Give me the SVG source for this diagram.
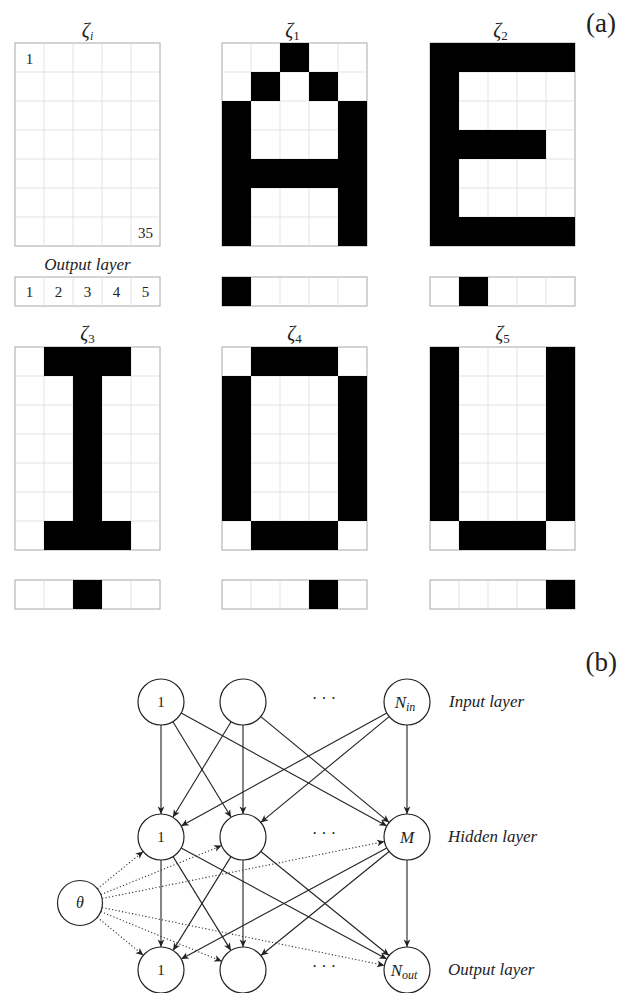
<svg xmlns="http://www.w3.org/2000/svg" xmlns:xlink="http://www.w3.org/1999/xlink" width="630" height="993" viewBox="0 0 630 993">
<style>
.txt{font-family:"Liberation Serif","DejaVu Serif",serif;fill:#222}
.it{font-style:italic}
.up{font-style:normal}
.cell{fill:#000}
.gl{stroke:#dcdcdc;stroke-width:0.8;fill:none}
.gb{stroke:#a8a8a8;stroke-width:1;fill:#fff}
.node{fill:#fff;stroke:#222;stroke-width:1.2}
.edge{stroke:#222;stroke-width:1.1;fill:none;marker-end:url(#arr)}
.dot{stroke:#333;stroke-width:1.1;fill:none;stroke-dasharray:1.2 2.2;marker-end:url(#arr)}
</style>
<defs>
<marker id="arr" markerUnits="userSpaceOnUse" markerWidth="10" markerHeight="8" refX="8" refY="4" orient="auto">
<path d="M8,4 L0.5,0.6 L2.5,4 L0.5,7.4 Z" fill="#222"/>
</marker>
<g id="grid">
<rect x="0" y="0" width="145" height="203" class="gb"/>
<path class="gl" d="M29,0V203M58,0V203M87,0V203M116,0V203M0,29H145M0,58H145M0,87H145M0,116H145M0,145H145M0,174H145"/>
</g>
<g id="bar">
<rect x="0" y="0" width="145" height="29" class="gb"/>
<path class="gl" d="M29,0V29M58,0V29M87,0V29M116,0V29"/>
</g>
</defs>
<rect width="630" height="993" fill="#fff"/>

<g id="panel-a">
<text class="txt" x="616" y="32" font-size="27" text-anchor="end">(a)</text>

<g id="zeta-i">
<text class="txt it" x="87.5" y="37" font-size="20" text-anchor="middle">ζ<tspan font-size="12" dy="3">i</tspan></text>
<use xlink:href="#grid" x="15" y="43"/>
<text class="txt" x="29.5" y="64" font-size="15" text-anchor="middle">1</text>
<text class="txt" x="145.5" y="238" font-size="15" text-anchor="middle">35</text>
<text class="txt it" x="87.5" y="270" font-size="17" text-anchor="middle">Output layer</text>
<use xlink:href="#bar" x="15" y="277"/>
<text class="txt" font-size="15" text-anchor="middle" y="297"><tspan x="29.5">1</tspan><tspan x="58.5">2</tspan><tspan x="87.5">3</tspan><tspan x="116.5">4</tspan><tspan x="145.5">5</tspan></text>
</g>

<g id="zeta-1">
<text class="txt it" x="292.5" y="37" font-size="20" text-anchor="middle">ζ<tspan class="up" font-size="13" dy="3">1</tspan></text>
<use xlink:href="#grid" x="222" y="43"/>
<rect class="cell" x="280" y="43" width="29" height="29"/>
<rect class="cell" x="251" y="72" width="29" height="29"/>
<rect class="cell" x="309" y="72" width="29" height="29"/>
<rect class="cell" x="222" y="101" width="29" height="145"/>
<rect class="cell" x="338" y="101" width="29" height="145"/>
<rect class="cell" x="251" y="159" width="87" height="29"/>
<use xlink:href="#bar" x="222" y="277"/>
<rect class="cell" x="222" y="277" width="29" height="29"/>
</g>

<g id="zeta-2">
<text class="txt it" x="500.5" y="37" font-size="20" text-anchor="middle">ζ<tspan class="up" font-size="13" dy="3">2</tspan></text>
<use xlink:href="#grid" x="430" y="43"/>
<rect class="cell" x="430" y="43" width="145" height="29"/>
<rect class="cell" x="430" y="72" width="29" height="174"/>
<rect class="cell" x="459" y="130" width="87" height="29"/>
<rect class="cell" x="459" y="217" width="116" height="29"/>
<use xlink:href="#bar" x="430" y="277"/>
<rect class="cell" x="459" y="277" width="29" height="29"/>
</g>

<g id="zeta-3">
<text class="txt it" x="87.5" y="340" font-size="20" text-anchor="middle">ζ<tspan class="up" font-size="13" dy="3">3</tspan></text>
<use xlink:href="#grid" x="15" y="347"/>
<rect class="cell" x="44" y="347" width="87" height="29"/>
<rect class="cell" x="73" y="376" width="29" height="145"/>
<rect class="cell" x="44" y="521" width="87" height="29"/>
<use xlink:href="#bar" x="15" y="580"/>
<rect class="cell" x="73" y="580" width="29" height="29"/>
</g>

<g id="zeta-4">
<text class="txt it" x="294.5" y="340" font-size="20" text-anchor="middle">ζ<tspan class="up" font-size="13" dy="3">4</tspan></text>
<use xlink:href="#grid" x="222" y="347"/>
<rect class="cell" x="251" y="347" width="87" height="29"/>
<rect class="cell" x="222" y="376" width="29" height="145"/>
<rect class="cell" x="338" y="376" width="29" height="145"/>
<rect class="cell" x="251" y="521" width="87" height="29"/>
<use xlink:href="#bar" x="222" y="580"/>
<rect class="cell" x="309" y="580" width="29" height="29"/>
</g>

<g id="zeta-5">
<text class="txt it" x="502.5" y="340" font-size="20" text-anchor="middle">ζ<tspan class="up" font-size="13" dy="3">5</tspan></text>
<use xlink:href="#grid" x="430" y="347"/>
<rect class="cell" x="430" y="347" width="29" height="174"/>
<rect class="cell" x="546" y="347" width="29" height="174"/>
<rect class="cell" x="459" y="521" width="87" height="29"/>
<use xlink:href="#bar" x="430" y="580"/>
<rect class="cell" x="546" y="580" width="29" height="29"/>
</g>
</g>

<text class="txt" x="617" y="671" font-size="27" text-anchor="end">(b)</text>

<g id="connectors">
<line class="edge" x1="161" y1="725" x2="161" y2="814"/>
<line class="edge" x1="172.9" y1="721.7" x2="231.1" y2="817.3"/>
<line class="edge" x1="181.2" y1="713.1" x2="386.8" y2="825.9"/>
<line class="edge" x1="231.1" y1="721.7" x2="172.9" y2="817.3"/>
<line class="edge" x1="243" y1="725" x2="243" y2="814"/>
<line class="edge" x1="260.8" y1="716.6" x2="389.2" y2="822.4"/>
<line class="edge" x1="386.8" y1="713.1" x2="181.2" y2="825.9"/>
<line class="edge" x1="389.2" y1="716.6" x2="260.8" y2="822.4"/>
<line class="edge" x1="407" y1="725" x2="407" y2="814"/>

<line class="edge" x1="161" y1="860" x2="161" y2="947"/>
<line class="edge" x1="173.1" y1="856.6" x2="230.9" y2="950.4"/>
<line class="edge" x1="181.2" y1="847.9" x2="386.8" y2="959.1"/>
<line class="edge" x1="230.9" y1="856.6" x2="173.1" y2="950.4"/>
<line class="edge" x1="243" y1="860" x2="243" y2="947"/>
<line class="edge" x1="260.9" y1="851.5" x2="389.1" y2="955.5"/>
<line class="edge" x1="386.8" y1="847.9" x2="181.2" y2="959.1"/>
<line class="edge" x1="389.1" y1="851.5" x2="260.9" y2="955.5"/>
<line class="edge" x1="407" y1="860" x2="407" y2="947"/>

<line class="dot" x1="97.4" y1="888.8" x2="143.2" y2="851.5"/>
<line class="dot" x1="100.9" y1="894.6" x2="221.7" y2="845.6"/>
<line class="dot" x1="102.1" y1="898.5" x2="384.5" y2="841.5"/>
<line class="dot" x1="97.3" y1="917.3" x2="143.3" y2="955.3"/>
<line class="dot" x1="100.8" y1="911.6" x2="221.7" y2="961.3"/>
<line class="dot" x1="102.0" y1="907.5" x2="384.5" y2="965.4"/>
</g>

<g id="in-1"><circle class="node" cx="161" cy="702" r="23"/><text class="txt" x="161" y="707" font-size="15" text-anchor="middle">1</text></g>
<g id="in-2"><circle class="node" cx="243" cy="702" r="23"/></g>
<g id="in-dots"><text class="txt" x="324" y="704" font-size="16" text-anchor="middle">· · ·</text></g>
<g id="in-n"><circle class="node" cx="407" cy="702" r="23"/><text class="txt it" x="405" y="708" font-size="17" text-anchor="middle">N<tspan font-size="12" dy="3">in</tspan></text></g>
<text class="txt it" x="449" y="707" font-size="17">Input layer</text>

<g id="hid-1"><circle class="node" cx="161" cy="837" r="23"/><text class="txt" x="161" y="842" font-size="15" text-anchor="middle">1</text></g>
<g id="hid-2"><circle class="node" cx="243" cy="837" r="23"/></g>
<g id="hid-dots"><text class="txt" x="324" y="839" font-size="16" text-anchor="middle">· · ·</text></g>
<g id="hid-m"><circle class="node" cx="407" cy="837" r="23"/><text class="txt it" x="407" y="843" font-size="17" text-anchor="middle">M</text></g>
<text class="txt it" x="448" y="842" font-size="17">Hidden layer</text>

<g id="theta"><circle class="node" cx="80" cy="903" r="22.5"/><text class="txt it" x="80" y="908" font-size="16" text-anchor="middle">θ</text></g>

<g id="out-1"><circle class="node" cx="161" cy="970" r="23"/><text class="txt" x="161" y="975" font-size="15" text-anchor="middle">1</text></g>
<g id="out-2"><circle class="node" cx="243" cy="970" r="23"/></g>
<g id="out-dots"><text class="txt" x="324" y="972" font-size="16" text-anchor="middle">· · ·</text></g>
<g id="out-n"><circle class="node" cx="407" cy="970" r="23"/><text class="txt it" x="404" y="976" font-size="17" text-anchor="middle">N<tspan font-size="12" dy="3">out</tspan></text></g>
<text class="txt it" x="448" y="975" font-size="17">Output layer</text>
</svg>
